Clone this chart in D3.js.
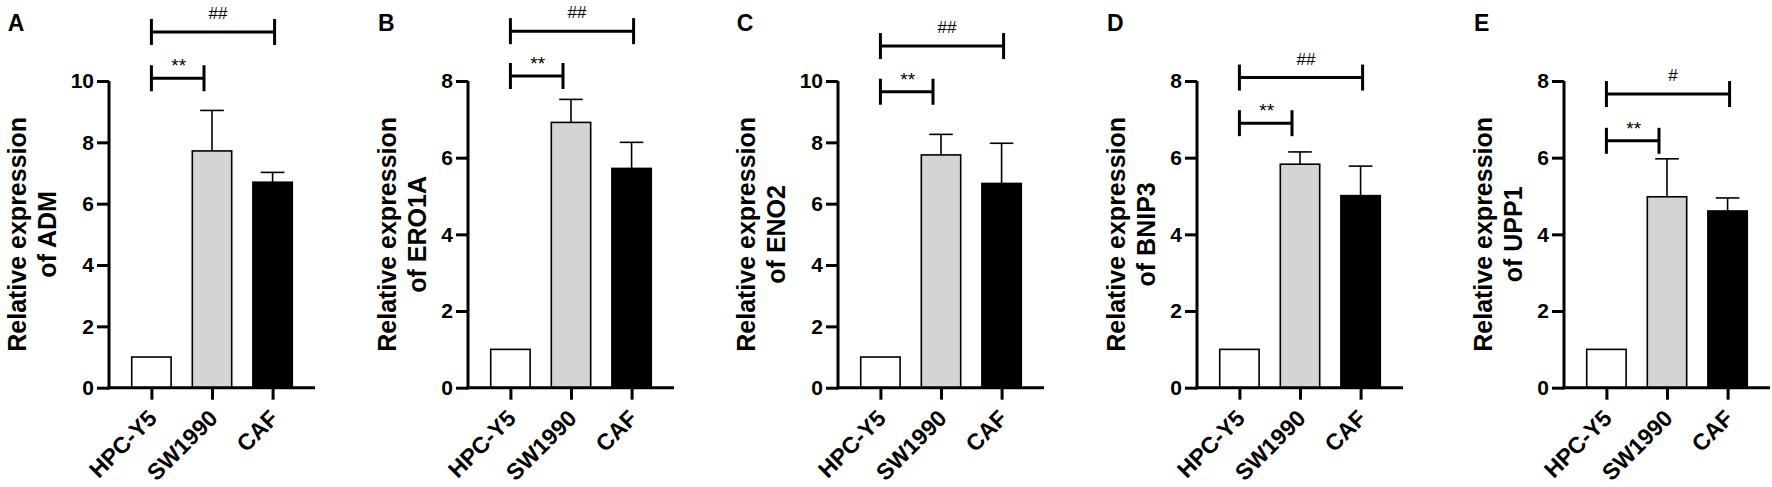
<!DOCTYPE html>
<html lang="en">
  <head>
    <meta charset="UTF-8" />
    <title>Relative expression bar charts</title>
    <style>
      body { margin: 0; background: #fff; }
      svg { display: block; font-family: 'Liberation Sans', Arial, sans-serif; }
      .axis path, .axis line { stroke: #000; stroke-width: 3; }
      .axis text { font-weight: bold; fill: #000; }
    </style>
  </head>
  <body>
    <script src="https://cdn.jsdelivr.net/npm/d3@7"></script>
    <script>
      // data
      const groups = ['HPC-Y5', 'SW1990', 'CAF'];
      const genes = ['ADM', 'ERO1A', 'ENO2', 'BNIP3', 'UPP1'];
      const letters = ['A', 'B', 'C', 'D', 'E'];
      const yMax = [10, 8, 10, 8, 8];
      const yTicks = [
        [0, 2, 4, 6, 8, 10],
        [0, 2, 4, 6, 8],
        [0, 2, 4, 6, 8, 10],
        [0, 2, 4, 6, 8],
        [0, 2, 4, 6, 8]
      ];
      const means = [
        [1.0, 7.72, 6.7],
        [1.0, 6.92, 5.72],
        [1.0, 7.59, 6.66],
        [1.0, 5.83, 5.01],
        [1.0, 4.98, 4.61]
      ];
      const errors = [
        [0, 1.32, 0.32],
        [0, 0.6, 0.68],
        [0, 0.67, 1.31],
        [0, 0.32, 0.77],
        [0, 0.99, 0.34]
      ];
      // significance brackets: [from, to]
      const sigPairs = [['HPC-Y5', 'SW1990'], ['HPC-Y5', 'CAF']];
      const sigLabels = [
        ['**', '##'],
        ['**', '##'],
        ['**', '##'],
        ['**', '##'],
        ['**', '#']
      ];
      const sigLevels = [
        [10.09, 11.6],
        [8.13, 9.3],
        [9.65, 11.14],
        [6.9, 8.09],
        [6.44, 7.66]
      ];

      // layout
      const width = 1772;
      const height = 487;
      const axisX = [109, 468, 838, 1197, 1564];
      const plotW = 206;
      const yTop = 81;
      const yZero = 387.7;
      const fills = ['#ffffff', '#d4d4d4', '#000000'];
      const bracketTrim = [-8, 2];

      const svg = d3
        .select('body')
        .append('svg')
        .attr('width', width)
        .attr('height', height);

      genes.forEach((gene, p) => {
        const g = svg.append('g').attr('transform', `translate(${axisX[p]},0)`);

        const x = d3.scalePoint().domain(groups).range([0, plotW]).padding(0.7);
        const y = d3.scaleLinear().domain([0, yMax[p]]).range([yZero, yTop]);
        const barW = x.step() * 0.65;
        const rows = groups.map((k, i) => ({ k, m: means[p][i], e: errors[p][i], i }));

        // error bars (upper only), drawn behind bars
        const err = g.selectAll('.err').data(rows.filter((d) => d.e > 0)).enter().append('g');
        err
          .append('line')
          .attr('x1', (d) => x(d.k))
          .attr('x2', (d) => x(d.k))
          .attr('y1', (d) => y(d.m))
          .attr('y2', (d) => y(d.m + d.e))
          .attr('stroke', '#000')
          .attr('stroke-width', 1.6);
        err
          .append('line')
          .attr('x1', (d) => x(d.k) - barW * 0.3)
          .attr('x2', (d) => x(d.k) + barW * 0.3)
          .attr('y1', (d) => y(d.m + d.e))
          .attr('y2', (d) => y(d.m + d.e))
          .attr('stroke', '#000')
          .attr('stroke-width', 1.6);

        g.selectAll('rect')
          .data(rows)
          .enter()
          .append('rect')
          .attr('x', (d) => x(d.k) - barW / 2)
          .attr('y', (d) => y(d.m))
          .attr('width', barW)
          .attr('height', (d) => y(0) - y(d.m))
          .attr('fill', (d) => fills[d.i])
          .attr('stroke', '#000')
          .attr('stroke-width', 1.6);

        // y axis
        const ya = g
          .append('g')
          .attr('class', 'axis')
          .call(d3.axisLeft(y).tickValues(yTicks[p]).tickSize(12).tickSizeOuter(0).tickPadding(3));
        ya.select('.domain').attr('d', `M0,${yTop}V${yZero + 1.5}`);
        ya.selectAll('text').style('font-size', '21px');

        // x axis, labels drawn separately so they can be turned
        const xa = g
          .append('g')
          .attr('class', 'axis')
          .attr('transform', `translate(0,${yZero})`)
          .call(d3.axisBottom(x).tickSize(12).tickSizeOuter(0).tickFormat(''));
        xa.select('.domain').attr('d', `M-1.5,0H${plotW}`);

        g.selectAll('.xlab')
          .data(groups)
          .enter()
          .append('g')
          .attr('class', 'xlab')
          .attr('transform', (d) => `translate(${x(d) + 7},${yZero + 32})`)
          .append('text')
          .attr('transform', 'rotate(-45)')
          .attr('text-anchor', 'end')
          .style('font-size', '23px')
          .style('font-weight', 'bold')
          .text((d) => d);

        // y axis title
        const tw = d3.max(ya.selectAll('text').nodes(), (n) => n.getBBox().width);
        const off = -(tw + 30);
        const title = g
          .append('text')
          .attr('transform', `translate(${off},${(yTop + yZero) / 2}) rotate(-90)`)
          .attr('text-anchor', 'middle')
          .style('font-size', '25px')
          .style('font-weight', 'bold');
        title.append('tspan').attr('x', 0).attr('y', -30).text('Relative expression');
        title.append('tspan').attr('x', 0).attr('y', 0).text(`of ${gene}`);

        // panel letter
        g.append('text')
          .attr('x', off - 48)
          .attr('y', 31)
          .style('font-size', '23px')
          .style('font-weight', 'bold')
          .text(letters[p]);

        // significance brackets
        sigPairs.forEach((pair, j) => {
          const x1 = x(pair[0]);
          const x2 = x(pair[1]) + bracketTrim[j];
          const yy = y(sigLevels[p][j]);
          const b = g.append('g').attr('stroke', '#000').attr('stroke-width', 3);
          b.append('line').attr('x1', x1).attr('x2', x2).attr('y1', yy).attr('y2', yy);
          b.append('line').attr('x1', x1).attr('x2', x1).attr('y1', yy - 13).attr('y2', yy + 13);
          b.append('line').attr('x1', x2).attr('x2', x2).attr('y1', yy - 13).attr('y2', yy + 13);
          const lab = sigLabels[p][j];
          const star = lab.includes('*');
          g.append('text')
            .attr('x', (x1 + x2) / 2 + (star ? 1 : 5))
            .attr('y', star ? yy - 6 : yy - 13)
            .attr('text-anchor', 'middle')
            .style('font-size', star ? '19px' : '17px')
            .text(lab);
        });
      });
    </script>
  </body>
</html>
